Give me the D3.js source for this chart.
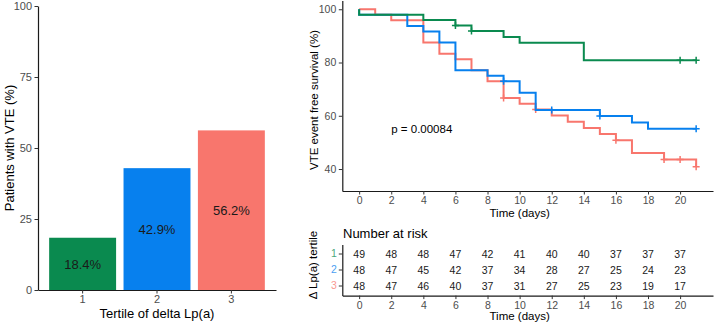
<!DOCTYPE html>
<html>
<head>
<meta charset="utf-8">
<script src="https://cdn.jsdelivr.net/npm/d3@7"></script>
<style>
  body { margin: 0; background: #fff; }
  svg { display: block; font-family: "Liberation Sans", Arial, sans-serif; }
</style>
</head>
<body>
<svg id="chart" width="715" height="323"></svg>
<script>
// ---------- Data ----------
const tertiles = ["1", "2", "3"];
const vtePct = [18.4, 42.9, 56.2];
const barLabels = ["18.4%", "42.9%", "56.2%"];
const barTicks = [0, 25, 50, 75, 100];

// Kaplan-Meier step points (time in days, survival %)
const kmTime1 = [0, 0, 4, 6, 7, 9, 10, 14, 21];
const kmSurv1 = [100, 97.96, 95.92, 93.88, 91.79, 89.60, 87.42, 80.86, 80.86];
const censor1 = [6, 7, 20, 21];

const kmTime2 = [0, 0, 3, 4, 5, 6, 8, 9, 10, 11, 15, 17, 18, 21];
const kmSurv2 = [100, 97.92, 93.75, 91.67, 87.5, 77.08, 75.0, 72.92, 68.63, 62.20, 59.90, 57.50, 55.10, 55.10];
const censor2 = [9, 12, 15, 21];

const kmTime3 = [0, 1, 2, 4, 5, 6, 7, 8, 9, 10, 11, 12, 13, 14, 15, 16, 17, 19, 21];
const kmSurv3 = [100, 97.92, 95.83, 87.5, 83.33, 81.25, 77.08, 72.92, 66.67, 64.52, 62.37, 60.06, 57.75, 55.44, 53.13, 50.82, 45.98, 43.56, 40.84];
const censor3 = [9, 11, 16, 19, 20, 21];

const kmXTicks = [0, 2, 4, 6, 8, 10, 12, 14, 16, 18, 20];
const kmYTicks = [40, 60, 80, 100];
const pValueText = "p = 0.00084";

// Number at risk
const riskTimes = [0, 2, 4, 6, 8, 10, 12, 14, 16, 18, 20];
const risk1 = [49, 48, 48, 47, 42, 41, 40, 40, 37, 37, 37];
const risk2 = [48, 47, 45, 42, 37, 34, 28, 27, 25, 24, 23];
const risk3 = [48, 47, 46, 40, 37, 31, 27, 25, 23, 19, 17];

// ---------- Styles ----------
const colors = ["#0A8A4F", "#0780EE", "#F8766D"];
const tickColor = "#4D4D4D";
const svg = d3.select("#chart");
svg.append("rect").attr("width", 715).attr("height", 323).attr("fill", "#fff");

function styleAxis(g, fontSize) {
  g.select(".domain").attr("stroke", "#1a1a1a").attr("stroke-width", 1.2);
  g.selectAll(".tick line").attr("stroke", "#333").attr("stroke-width", 1);
  g.selectAll(".tick text").attr("fill", tickColor).attr("font-size", fontSize)
    .attr("font-family", "Liberation Sans, Arial, sans-serif");
}

// ---------- Bar chart ----------
const xBar = d3.scaleBand().domain(tertiles).range([38, 276]).paddingInner(0.1).paddingOuter(0.15);
const yBar = d3.scaleLinear().domain([0, 100]).range([290, 6]);

svg.append("g").selectAll("rect").data(tertiles).join("rect")
  .attr("x", d => xBar(d))
  .attr("y", (d, i) => yBar(vtePct[i]))
  .attr("width", xBar.bandwidth())
  .attr("height", (d, i) => yBar(0) - yBar(vtePct[i]))
  .attr("fill", (d, i) => colors[i]);

svg.append("g").selectAll("text").data(tertiles).join("text")
  .attr("x", d => xBar(d) + xBar.bandwidth() / 2)
  .attr("y", (d, i) => yBar(vtePct[i] / 2))
  .attr("dy", "0.36em")
  .attr("text-anchor", "middle")
  .attr("font-size", 13)
  .attr("fill", "#1a1a1a")
  .text((d, i) => barLabels[i]);

const gyBar = svg.append("g").attr("transform", "translate(38,0)")
  .call(d3.axisLeft(yBar).tickValues(barTicks).tickSize(3.5).tickSizeOuter(0).tickPadding(2.5));
styleAxis(gyBar, 11);
const gxBar = svg.append("g").attr("transform", "translate(0,290)")
  .call(d3.axisBottom(xBar).tickSize(3.5).tickSizeOuter(0).tickPadding(2));
styleAxis(gxBar, 11);

svg.append("text").attr("x", 157).attr("y", 318).attr("text-anchor", "middle")
  .attr("font-size", 13).attr("fill", "#000").text("Tertile of delta Lp(a)");
svg.append("text").attr("transform", "translate(14,148) rotate(-90)").attr("text-anchor", "middle")
  .attr("font-size", 13).attr("fill", "#000").text("Patients with VTE (%)");

// ---------- KM plot ----------
const xKm = d3.scaleLinear().domain([-1.05, 22.05]).range([342.3, 713]);
const yKm = d3.scaleLinear().domain([31.75, 103.25]).range([191, 0.6]);

const groups = [
  { t: kmTime1, s: kmSurv1, c: censor1 },
  { t: kmTime2, s: kmSurv2, c: censor2 },
  { t: kmTime3, s: kmSurv3, c: censor3 }
];
const stepLine = d3.line().x(d => xKm(d[0])).y(d => yKm(d[1])).curve(d3.curveStepAfter);
function survAt(g, t) {
  let v = g.s[0];
  for (let i = 0; i < g.t.length; i++) if (g.t[i] <= t) v = g.s[i];
  return v;
}
[2, 1, 0].forEach(i => {
  const g = groups[i];
  const pts = g.t.map((t, k) => [t, g.s[k]]);
  svg.append("path").attr("d", stepLine(pts)).attr("fill", "none")
    .attr("stroke", colors[i]).attr("stroke-width", 2);
  const cg = svg.append("g");
  g.c.forEach(t => {
    const cx = xKm(t), cy = yKm(survAt(g, t));
    cg.append("path").attr("d", `M${cx - 3.5},${cy}H${cx + 3.5}M${cx},${cy - 3.5}V${cy + 3.5}`)
      .attr("stroke", colors[i]).attr("stroke-width", 1.5);
  });
});

svg.append("text").attr("x", xKm(2)).attr("y", yKm(55)).attr("dy", "0.36em")
  .attr("font-size", 11.5).attr("fill", "#000").text(pValueText);

const gyKm = svg.append("g").attr("transform", "translate(342.3,0)")
  .call(d3.axisLeft(yKm).tickValues(kmYTicks).tickSize(3.5).tickSizeOuter(0).tickPadding(2.5));
styleAxis(gyKm, 10.5);
const gxKm = svg.append("g").attr("transform", "translate(0,191)")
  .call(d3.axisBottom(xKm).tickValues(kmXTicks).tickSize(3.5).tickSizeOuter(0).tickPadding(2));
styleAxis(gxKm, 10.5);

svg.append("text").attr("x", xKm(10)).attr("y", 217).attr("text-anchor", "middle")
  .attr("font-size", 11.5).attr("fill", "#000").text("Time (days)");
svg.append("text").attr("transform", "translate(318,100) rotate(-90)").attr("text-anchor", "middle")
  .attr("font-size", 11.5).attr("fill", "#000").text("VTE event free survival (%)");

// ---------- Number at risk table ----------
const yTab = d3.scaleBand().domain(tertiles).range([244.4, 295.6]).paddingInner(0).paddingOuter(0.1);
const risks = [risk1, risk2, risk3];

svg.append("text").attr("x", 343).attr("y", 237.5).attr("font-size", 13)
  .attr("fill", "#000").text("Number at risk");

risks.forEach((row, i) => {
  svg.append("g").selectAll("text").data(riskTimes).join("text")
    .attr("x", d => xKm(d))
    .attr("y", yTab(tertiles[i]) + yTab.bandwidth() / 2)
    .attr("dy", "0.36em")
    .attr("text-anchor", "middle")
    .attr("font-size", 10.5)
    .attr("fill", "#1a1a1a")
    .text((d, k) => row[k]);
});

const gyTab = svg.append("g").attr("transform", "translate(342.3,0)")
  .call(d3.axisLeft(yTab).tickSize(3.5).tickSizeOuter(0).tickPadding(2));
styleAxis(gyTab, 10.5);
gyTab.selectAll(".tick text").attr("fill", (d, i) => colors[i]).attr("opacity", 0.75);
const gxTab = svg.append("g").attr("transform", "translate(0,295.6)")
  .call(d3.axisBottom(xKm).tickValues(kmXTicks).tickSize(3.5).tickSizeOuter(0).tickPadding(2));
styleAxis(gxTab, 10.5);

svg.append("text").attr("x", xKm(10)).attr("y", 320).attr("text-anchor", "middle")
  .attr("font-size", 11.5).attr("fill", "#000").text("Time (days)");
svg.append("text").attr("transform", "translate(317,265) rotate(-90)").attr("text-anchor", "middle")
  .attr("font-size", 11.5).attr("fill", "#000").text("Δ Lp(a) tertile");
</script>
</body>
</html>
